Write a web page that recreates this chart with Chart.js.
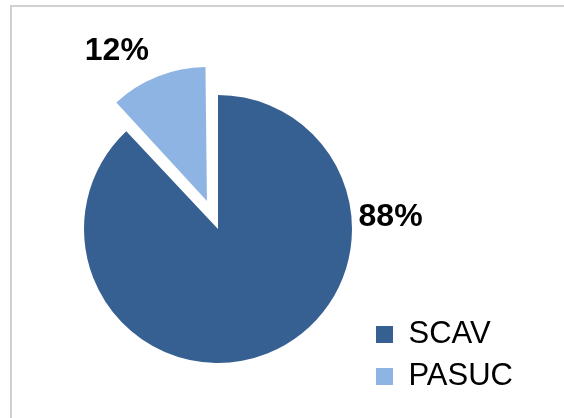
<!DOCTYPE html>
<html>
<head>
<meta charset="utf-8">
<script src="https://cdn.jsdelivr.net/npm/chart.js@4"></script>
<style>
  body { margin: 0; background: #fff; overflow: hidden; }
  #frame { position: absolute; left: 10px; top: 5px; width: 600px; height: 460px; border: 2px solid #d0d0d0; }
  #c { position: absolute; left: 0; top: 0; }
</style>
</head>
<body>
<div id="frame"></div>
<canvas id="c" width="564" height="418"></canvas>
<script>
// pie data
const labels = ['SCAV', 'PASUC'];
const values = [88, 12];
const colors = ['#376092', '#8eb4e3'];

// exploded slice, px (chart.js arcs move offset/4)
const slicePull = [0, 30];
// % labels: angle (deg, clockwise from top) and distance from the slice vertex
const labelAngle = [86, -31];
const labelDist = [173, 175];

const font = '"Liberation Sans", Arial, sans-serif';

// chart.js grows an offset arc's radius a bit; undo that so both slices match
const keepRadius = {
  id: 'keepRadius',
  afterDatasetUpdate(chart, args) {
    args.meta.data.forEach((arc, i) => {
      const fix = 1 - Math.sin(Math.min(Math.PI, arc.circumference));
      arc.outerRadius -= slicePull[i] * fix;
    });
  }
};

const pctLabels = {
  id: 'pctLabels',
  afterDatasetsDraw(chart) {
    const ctx = chart.ctx;
    const meta = chart.getDatasetMeta(0);
    const total = values.reduce((a, b) => a + b, 0);
    ctx.save();
    ctx.font = 'bold 32px ' + font;
    ctx.fillStyle = '#000';
    ctx.textAlign = 'center';
    ctx.textBaseline = 'middle';
    meta.data.forEach((arc, i) => {
      const mid = (arc.startAngle + arc.endAngle) / 2;
      const vx = arc.x + Math.cos(mid) * slicePull[i];
      const vy = arc.y + Math.sin(mid) * slicePull[i];
      const a = labelAngle[i] * Math.PI / 180;
      const x = vx + Math.sin(a) * labelDist[i];
      const y = vy - Math.cos(a) * labelDist[i];
      ctx.fillText(Math.round(values[i] / total * 100) + '%', x, y);
    });
    ctx.restore();
  }
};

new Chart(document.getElementById('c').getContext('2d'), {
  type: 'pie',
  data: {
    labels: labels,
    datasets: [{ data: values, backgroundColor: colors, borderWidth: 0, offset: slicePull.map(p => p * 4) }]
  },
  options: {
    responsive: false,
    animation: false,
    events: [],
    radius: 134,
    layout: { padding: { left: 71, right: 41, top: 55, bottom: 15 } },
    plugins: {
      tooltip: { enabled: false },
      legend: {
        position: 'right',
        align: 'end',
        labels: {
          boxWidth: 17, boxHeight: 17, padding: 11, color: '#000',
          font: { family: font, size: 31 }
        }
      }
    }
  },
  plugins: [keepRadius, pctLabels]
});
</script>
</body>
</html>
